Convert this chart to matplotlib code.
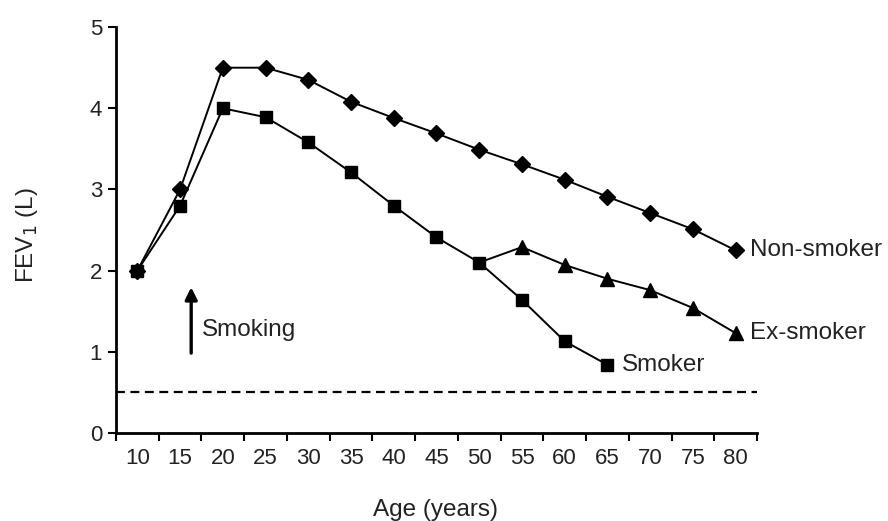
import matplotlib
matplotlib.use('Agg')
import matplotlib.pyplot as plt

# FEV1 decline with age (Fletcher-Peto style curves)
ages = [10, 15, 20, 25, 30, 35, 40, 45, 50, 55, 60, 65, 70, 75, 80]
non_smoker = [2.0, 3.0, 4.5, 4.5, 4.35, 4.08, 3.88, 3.69, 3.49, 3.31, 3.12, 2.91, 2.71, 2.51, 2.25]
smoker_ages = [10, 15, 20, 25, 30, 35, 40, 45, 50, 55, 60, 65]
smoker = [2.0, 2.8, 4.0, 3.89, 3.58, 3.21, 2.8, 2.41, 2.1, 1.64, 1.13, 0.84]
ex_ages = [50, 55, 60, 65, 70, 75, 80]
ex_smoker = [2.1, 2.29, 2.07, 1.9, 1.76, 1.54, 1.23]
disability = 0.5

plt.rcParams['font.family'] = ['Liberation Sans', 'DejaVu Sans']

fig = plt.figure(figsize=(8.88, 5.21), dpi=100)
ax = fig.add_axes([0.1306, 0.1689, 0.7219, 0.7791])

line_kw = dict(color='black', lw=1.4)
ax.plot(ages, non_smoker, marker='D', ms=8, **line_kw)
ax.plot(smoker_ages, smoker, marker='s', ms=9, **line_kw)
ax.plot(ex_ages, ex_smoker, **line_kw)
ax.plot(ex_ages[1:], ex_smoker[1:], ls='none', marker='^', ms=10, color='black')
ax.axhline(disability, color='black', lw=1.6, ls=(0, (4, 2.5)))

# end-of-curve labels
lab_fs = 17.5
txt_col = '#222222'
ax.text(ages[-1] + 1.7, non_smoker[-1], 'Non-smoker', fontsize=lab_fs, va='center', color=txt_col)
ax.text(ex_ages[-1] + 1.7, ex_smoker[-1], 'Ex-smoker', fontsize=lab_fs, va='center', color=txt_col)
ax.text(smoker_ages[-1] + 1.7, smoker[-1], 'Smoker', fontsize=lab_fs, va='center', color=txt_col)

# onset of smoking
ax.annotate('', xy=(16.3, 1.83), xytext=(16.3, 0.95),
            arrowprops=dict(arrowstyle='-|>', color='black', lw=2.4, mutation_scale=18))
ax.text(17.6, 1.27, 'Smoking', fontsize=lab_fs, va='center', color=txt_col)

ax.set_xlim(7.5, 82.5)
ax.set_ylim(0, 5)
ax.set_xticks([a - 2.5 for a in ages] + [ages[-1] + 2.5])
ax.set_xticklabels([])
ax.set_xticks(ages, minor=True)
ax.set_xticklabels([str(a) for a in ages], minor=True, fontsize=16)
ax.tick_params(axis='x', which='major', length=6, width=1.5, direction='out')
ax.tick_params(axis='x', which='minor', length=0, pad=11, labelcolor=txt_col)
ax.set_yticks([0, 1, 2, 3, 4, 5])
ax.tick_params(axis='y', length=6, width=1.5, labelsize=16, pad=4, labelcolor=txt_col)

for side in ['top', 'right']:
    ax.spines[side].set_visible(False)
for side in ['left', 'bottom']:
    ax.spines[side].set_linewidth(2)

fig.text(0.49, 1 - 510 / 521, 'Age (years)', fontsize=lab_fs, ha='center', va='center', color=txt_col)
fig.text(27 / 888, 1 - 235 / 521, 'FEV$_1$ (L)', fontsize=lab_fs,
         rotation=90, ha='center', va='center', color=txt_col)

fig.savefig('out.png', dpi=100)
plt.close()
